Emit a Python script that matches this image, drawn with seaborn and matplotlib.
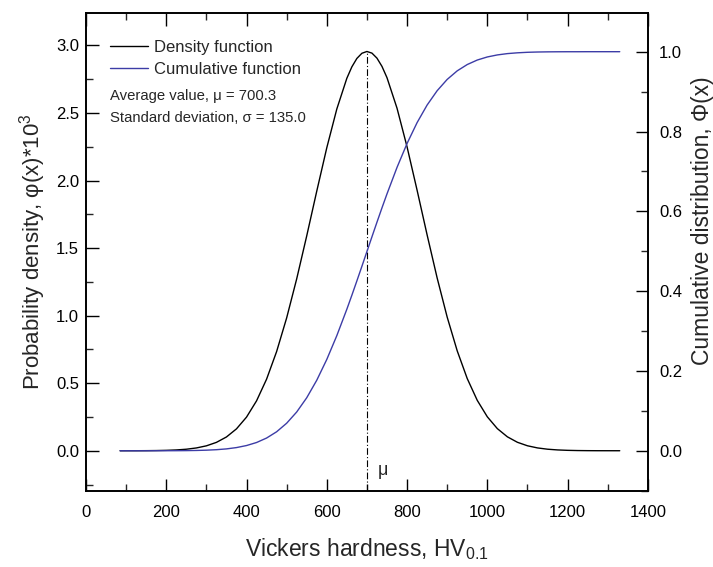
import matplotlib
matplotlib.use("Agg")
import matplotlib.pyplot as plt
import seaborn as sns
import pandas as pd
from matplotlib.ticker import MultipleLocator, FormatStrFormatter
from matplotlib.lines import Line2D

# values
hardness = [85, 100, 125, 150, 175, 200, 225, 250, 275, 300, 325, 350, 375, 400,
            425, 450, 475, 500, 525, 550, 575, 600, 625, 650, 662.5, 675, 687.5,
            700, 712.5, 725, 737.5, 750, 775, 800, 825, 850, 875, 900, 925, 950,
            975, 1000, 1025, 1050, 1075, 1100, 1125, 1150, 1175, 1200, 1225,
            1250, 1275, 1300, 1330]
density = [0.0001, 0.0002, 0.0003, 0.0007, 0.0015, 0.0031, 0.0060, 0.0113, 0.0207,
           0.0364, 0.0620, 0.1020, 0.1621, 0.2489, 0.3694, 0.5298, 0.7341, 0.9830,
           1.2718, 1.5900, 1.9210, 2.2423, 2.5293, 2.7568, 2.8414, 2.9036, 2.9418,
           2.9550, 2.9430, 2.9059, 2.8449, 2.7614, 2.5355, 2.2497, 1.9289, 1.5978,
           1.2791, 0.9894, 0.7396, 0.5342, 0.3728, 0.2514, 0.1638, 0.1032, 0.0627,
           0.0369, 0.0210, 0.0115, 0.0061, 0.0031, 0.0015, 0.0007, 0.0003, 0.0002,
           0.0001]
cumulative = [0.0000, 0.0000, 0.0000, 0.0000, 0.0001, 0.0001, 0.0002, 0.0004, 0.0008,
              0.0015, 0.0027, 0.0047, 0.0080, 0.0131, 0.0207, 0.0319, 0.0476, 0.0690,
              0.0971, 0.1328, 0.1767, 0.2288, 0.2885, 0.3547, 0.3897, 0.4257, 0.4622,
              0.4991, 0.5360, 0.5726, 0.6086, 0.6436, 0.7100, 0.7699, 0.8222, 0.8663,
              0.9022, 0.9305, 0.9520, 0.9678, 0.9791, 0.9868, 0.9919, 0.9952, 0.9972,
              0.9985, 0.9992, 0.9996, 0.9998, 0.9999, 0.9999, 1.0000, 1.0000, 1.0000,
              1.0000]
mu_value = 700.3
sigma_value = 135.0
peak_density = 2.955

df = pd.DataFrame({"x": hardness, "pdf": density, "cdf": cumulative})

sns.set_theme(style="white")
plt.rcParams["font.family"] = ["Liberation Sans", "DejaVu Sans"]
plt.rcParams["mathtext.fontset"] = "custom"
plt.rcParams["mathtext.rm"] = "Liberation Sans"
plt.rcParams["mathtext.it"] = "Liberation Sans:italic"
plt.rcParams["mathtext.bf"] = "Liberation Sans:bold"

fig = plt.figure(figsize=(7.13, 5.67), dpi=100)
ax = fig.add_axes([0.1206, 0.1346, 0.788, 0.8425])
ax2 = ax.twinx()

blue = "#3c3ca6"
sns.lineplot(data=df, x="x", y="pdf", ax=ax, color="black", lw=1.0, sort=False)
sns.lineplot(data=df, x="x", y="cdf", ax=ax2, color=blue, lw=1.0, sort=False)

ax.set_xlim(0, 1400)
ax.set_ylim(-0.2955, 3.24)
ax2.set_ylim(-0.1, 1.097)

ax.vlines(mu_value, -0.2955, peak_density, colors="black", linestyles=(0, (6, 2, 1, 2)), lw=0.8)
ax.text(740, -0.145, "μ", fontsize=13, ha="center", va="center")

ax.xaxis.set_major_locator(MultipleLocator(200))
ax.xaxis.set_minor_locator(MultipleLocator(100))
ax.yaxis.set_major_locator(MultipleLocator(0.5))
ax.yaxis.set_minor_locator(MultipleLocator(0.25))
ax2.yaxis.set_major_locator(MultipleLocator(0.2))
ax2.yaxis.set_minor_locator(MultipleLocator(0.1))
ax.yaxis.set_major_formatter(FormatStrFormatter("%.1f"))
ax2.yaxis.set_major_formatter(FormatStrFormatter("%.1f"))

ax.tick_params(axis="x", which="both", direction="in", top=True, bottom=True)
ax.tick_params(axis="y", which="both", direction="in", left=True, right=False)
ax2.tick_params(axis="y", which="both", direction="in", right=True, left=False)
for a in (ax, ax2):
    a.tick_params(which="major", length=9, width=1.0, labelsize=12, colors="black", pad=5)
    a.tick_params(which="minor", length=5, width=1.0)
    for s in a.spines.values():
        s.set_linewidth(1.2)
        s.set_color("black")
ax.tick_params(axis="x", which="major", pad=10)
ax2.tick_params(axis="y", which="major", pad=8)

ax.set_xlabel("Vickers hardness, HV$_{0.1}$", fontsize=16.5)
ax.xaxis.set_label_coords(0.5, -0.095)
ax.set_ylabel("Probability density, φ(x)*10$^{3}$", fontsize=16, labelpad=6)
ax2.set_ylabel("Cumulative distribution, Φ(x)", fontsize=16.5)
ax2.yaxis.set_label_coords(1.077, 0.565)

handles = [Line2D([0], [0], color="black", lw=1.0),
           Line2D([0], [0], color=blue, lw=1.0)]
ax.legend(handles, ["Density function", "Cumulative function"], loc="upper left",
          bbox_to_anchor=(0.03, 0.958), frameon=False, fontsize=12,
          handlelength=2.3, handletextpad=0.35, labelspacing=0.45, borderaxespad=0)

ax.text(0.043, 0.826, f"Average value, μ = {mu_value:.1f}", transform=ax.transAxes,
        fontsize=10.7, va="center", ha="left")
ax.text(0.043, 0.781, f"Standard deviation, σ = {sigma_value:.1f}", transform=ax.transAxes,
        fontsize=10.7, va="center", ha="left")

fig.savefig("out.png", dpi=100)
